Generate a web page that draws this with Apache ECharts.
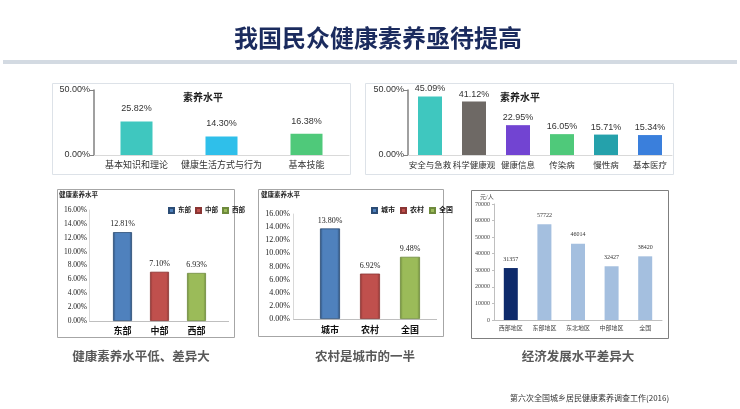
<!DOCTYPE html>
<html><head><meta charset="utf-8">
<script src="https://cdn.jsdelivr.net/npm/echarts@6/dist/echarts.min.js"></script>
<style>html,body{margin:0;padding:0;background:#fff}#c{width:740px;height:409px}</style>
</head><body><div id="c"></div>
<script>
const p1Cats = ['基本知识和理论','健康生活方式与行为','基本技能'];
const p1Vals = [25.82, 14.30, 16.38];
const p1Colors = ['#3FC7BF','#2FBFEA','#4FC97A'];
const p2Cats = ['安全与急救','科学健康观','健康信息','传染病','慢性病','基本医疗'];
const p2Vals = [45.09, 41.12, 22.95, 16.05, 15.71, 15.34];
const p2Colors = ['#3FC7BF','#6E6965','#7244D2','#4FC97A','#25A1AB','#3A7FDC'];
const p3Cats = ['东部','中部','西部'];
const p3Vals = [12.81, 7.10, 6.93];
const p4Cats = ['城市','农村','全国'];
const p4Vals = [13.80, 6.92, 9.48];
const p5Cats = ['西部地区','东部地区','东北地区','中部地区','全国'];
const p5Vals = [31357, 57722, 46014, 32427, 38420];
const pctTicks = [0, 50];
const ownTicks = [0, 16, 2];
const incomeTicks = [0, 70000, 10000];

const SANS = '"Liberation Sans","Noto Sans CJK SC",sans-serif';
const SERIF = '"Liberation Serif","Noto Sans CJK SC",serif';
const bevel = [['#4F81BD','#2B4C75'],['#C0504D','#8A3533'],['#9BBB59','#6E8A3C']];
function grad(c){return {type:'linear',x:0,y:0,x2:1,y2:0,colorStops:[
  {offset:0,color:c[1]},{offset:0.14,color:c[0]},{offset:0.86,color:c[0]},{offset:1,color:c[1]}]};}
const pct = v => Number(v).toFixed(2)+'%';

const chart = echarts.init(document.getElementById('c'));
const grids = [
  {left:94, top:90, width:255, height:65},
  {left:408, top:90, width:264, height:65},
  {left:104, top:210, width:111, height:111},
  {left:310, top:214, width:120, height:105},
  {left:494, top:204, width:168, height:116}
];
const xAxis = [
  {gridIndex:0,type:'category',data:p1Cats,axisLine:{lineStyle:{color:'#D9D9D9'}},axisTick:{show:false},
   axisLabel:{interval:0,fontSize:9,color:'#333',fontFamily:SANS,margin:6}},
  {gridIndex:1,type:'category',data:p2Cats,axisLine:{lineStyle:{color:'#D9D9D9'}},axisTick:{show:false},
   axisLabel:{interval:0,fontSize:8.5,color:'#333',fontFamily:SANS,margin:6}},
  {gridIndex:2,type:'category',data:p3Cats,axisLine:{lineStyle:{color:'#BFBFBF'}},axisTick:{show:false},
   axisLabel:{interval:0,fontSize:9,fontWeight:'bold',color:'#111',fontFamily:SERIF,margin:6}},
  {gridIndex:3,type:'category',data:p4Cats,axisLine:{lineStyle:{color:'#BFBFBF'}},axisTick:{show:false},
   axisLabel:{interval:0,fontSize:9,fontWeight:'bold',color:'#111',fontFamily:SERIF,margin:7}},
  {gridIndex:4,type:'category',data:p5Cats,axisLine:{lineStyle:{color:'#BFBFBF'}},axisTick:{show:false},
   axisLabel:{interval:0,fontSize:6,color:'#444',fontFamily:SERIF,margin:5}}
];
const yAxis = [
  {gridIndex:0,type:'value',min:pctTicks[0],max:pctTicks[1],interval:50,splitLine:{show:false},
   axisLine:{show:true,lineStyle:{color:'#808080',width:1.5}},axisTick:{show:true,length:4,lineStyle:{color:'#808080'}},
   axisLabel:{formatter:pct,fontSize:9,color:'#333',fontFamily:SANS,margin:4}},
  {gridIndex:1,type:'value',min:pctTicks[0],max:pctTicks[1],interval:50,splitLine:{show:false},
   axisLine:{show:true,lineStyle:{color:'#808080',width:1.5}},axisTick:{show:true,length:4,lineStyle:{color:'#808080'}},
   axisLabel:{formatter:pct,fontSize:9,color:'#333',fontFamily:SANS,margin:4}},
  {gridIndex:2,type:'value',min:ownTicks[0],max:ownTicks[1],interval:ownTicks[2],splitLine:{show:false},offset:15,
   axisLine:{show:true,lineStyle:{color:'#D9D9D9'}},axisTick:{show:false},
   axisLabel:{formatter:pct,fontSize:7.5,color:'#222',fontFamily:SERIF,margin:2}},
  {gridIndex:3,type:'value',min:ownTicks[0],max:ownTicks[1],interval:ownTicks[2],splitLine:{show:false},offset:17,
   axisLine:{show:true,lineStyle:{color:'#D9D9D9'}},axisTick:{show:false},
   axisLabel:{formatter:pct,fontSize:8,color:'#222',fontFamily:SERIF,margin:3}},
  {gridIndex:4,type:'value',min:incomeTicks[0],max:incomeTicks[1],interval:incomeTicks[2],splitLine:{show:false},
   axisLine:{show:true,lineStyle:{color:'#BFBFBF'}},axisTick:{show:true,length:2,lineStyle:{color:'#BFBFBF'}},
   axisLabel:{formatter:v=>String(v),fontSize:6,color:'#444',fontFamily:SERIF,margin:4}}
];
const series = [
  {type:'bar',xAxisIndex:0,yAxisIndex:0,barWidth:32,
   data:p1Vals.map((v,i)=>({value:v,itemStyle:{color:p1Colors[i]}})),
   label:{show:true,position:'top',distance:8,formatter:p=>pct(p.value),fontSize:9,color:'#333',fontFamily:SANS}},
  {type:'bar',xAxisIndex:1,yAxisIndex:1,barWidth:24,
   data:p2Vals.map((v,i)=>({value:v,itemStyle:{color:p2Colors[i]}})),
   label:{show:true,position:'top',distance:3,formatter:p=>pct(p.value),fontSize:9,color:'#333',fontFamily:SANS}},
  {type:'bar',xAxisIndex:4,yAxisIndex:4,barWidth:14,
   data:p5Vals.map((v,i)=>({value:v,itemStyle:{color:i===0?'#0E2A6B':'#A4BFDF'}})),
   label:{show:true,position:'top',distance:6,fontSize:6,color:'#333',fontFamily:SERIF}}
];
[[p3Cats,p3Vals,2,'g3'],[p4Cats,p4Vals,3,'g4']].forEach(([cats,vals,gi,stk])=>{
  cats.forEach((c,i)=>{
    series.push({type:'bar',name:c,stack:stk,xAxisIndex:gi,yAxisIndex:gi,barWidth:gi===2?19:20,
      data:cats.map((_,j)=>j===i?vals[j]:'-'),
      itemStyle:{color:grad(bevel[i]),borderColor:bevel[i][1],borderWidth:0.8},
      label:{show:true,position:'top',distance:4,formatter:p=>pct(p.value),fontSize:8,color:'#222',fontFamily:SERIF}});
  });
});
const legendBase = {icon:'rect',itemWidth:5,itemHeight:5,top:202,
  textStyle:{fontWeight:'bold',color:'#222',fontFamily:SERIF,padding:[0,0,0,-1]}};
const frame = (x,y,w,h,c) => ({type:'rect',z:-10,shape:{x:x,y:y,width:w,height:h},style:{fill:'#fff',stroke:c,lineWidth:1}});
const hline = (x1,x2,y,c) => ({type:'line',z:-4,shape:{x1:x1,y1:y,x2:x2,y2:y},style:{stroke:c,lineWidth:1}});
const txt = (x,y,t,s,extra) => Object.assign({type:'text',z:10,x:x,y:y,style:Object.assign({text:t},s)},extra||{});
chart.setOption({
  animation:false,
  grid:grids, xAxis:xAxis, yAxis:yAxis, series:series,
  legend:[
    Object.assign({},legendBase,{data:p3Cats,left:163,itemGap:4,textStyle:Object.assign({},legendBase.textStyle,{fontSize:6.5})}),
    Object.assign({},legendBase,{data:p4Cats,left:366,itemGap:5,textStyle:Object.assign({},legendBase.textStyle,{fontSize:7})})
  ],
  graphic:[
    {type:'rect',z:-5,shape:{x:3,y:60,width:734,height:4},style:{fill:'#D3DAE2'}},
    txt(378,38,'我国民众健康素养亟待提高',{fontSize:24,fontWeight:'bold',fill:'#1B2B5E',align:'center',verticalAlign:'middle',
      fontFamily:'"Noto Sans CJK SC",sans-serif',shadowColor:'rgba(0,0,0,0.25)',shadowBlur:2,shadowOffsetX:1,shadowOffsetY:1}),
    frame(52.5,83.5,298,91,'#DDE2E8'),
    frame(365.5,83.5,308,91,'#DDE2E8'),
    frame(57.5,189.5,177,148,'#A6A6A6'),
    frame(258.5,189.5,185,147,'#A6A6A6'),
    frame(471.5,190.5,197,148,'#7F7F7F'),
    hline(89,229,321.5,'#BFBFBF'),
    hline(293,437,319.5,'#BFBFBF'),
    txt(203,97,'素养水平',{fontSize:10,fontWeight:'bold',fill:'#222',align:'center',verticalAlign:'middle',fontFamily:'"Noto Sans CJK SC",sans-serif'}),
    txt(520,97,'素养水平',{fontSize:10,fontWeight:'bold',fill:'#222',align:'center',verticalAlign:'middle',fontFamily:'"Noto Sans CJK SC",sans-serif'}),
    txt(59,195,'健康素养水平',{fontSize:6.5,fontWeight:'bold',fill:'#222',verticalAlign:'middle',fontFamily:SERIF}),
    txt(261,195,'健康素养水平',{fontSize:6.5,fontWeight:'bold',fill:'#222',verticalAlign:'middle',fontFamily:SERIF}),
    txt(480,197,'元/人',{fontSize:6,fill:'#444',verticalAlign:'middle',fontFamily:SERIF}),
    txt(141,356,'健康素养水平低、差异大',{fontSize:12.5,fontWeight:'bold',fill:'#595959',align:'center',verticalAlign:'middle',fontFamily:'"Noto Sans CJK SC",sans-serif'}),
    txt(365,356,'农村是城市的一半',{fontSize:12.5,fontWeight:'bold',fill:'#595959',align:'center',verticalAlign:'middle',fontFamily:'"Noto Sans CJK SC",sans-serif'}),
    txt(578,356,'经济发展水平差异大',{fontSize:12.5,fontWeight:'bold',fill:'#595959',align:'center',verticalAlign:'middle',fontFamily:'"Noto Sans CJK SC",sans-serif'}),
    txt(510,398,'第六次全国城乡居民健康素养调查工作(2016)',{fontSize:8,fill:'#333',verticalAlign:'middle',fontFamily:'"Noto Sans CJK SC",sans-serif'})
  ]
});
</script></body></html>
